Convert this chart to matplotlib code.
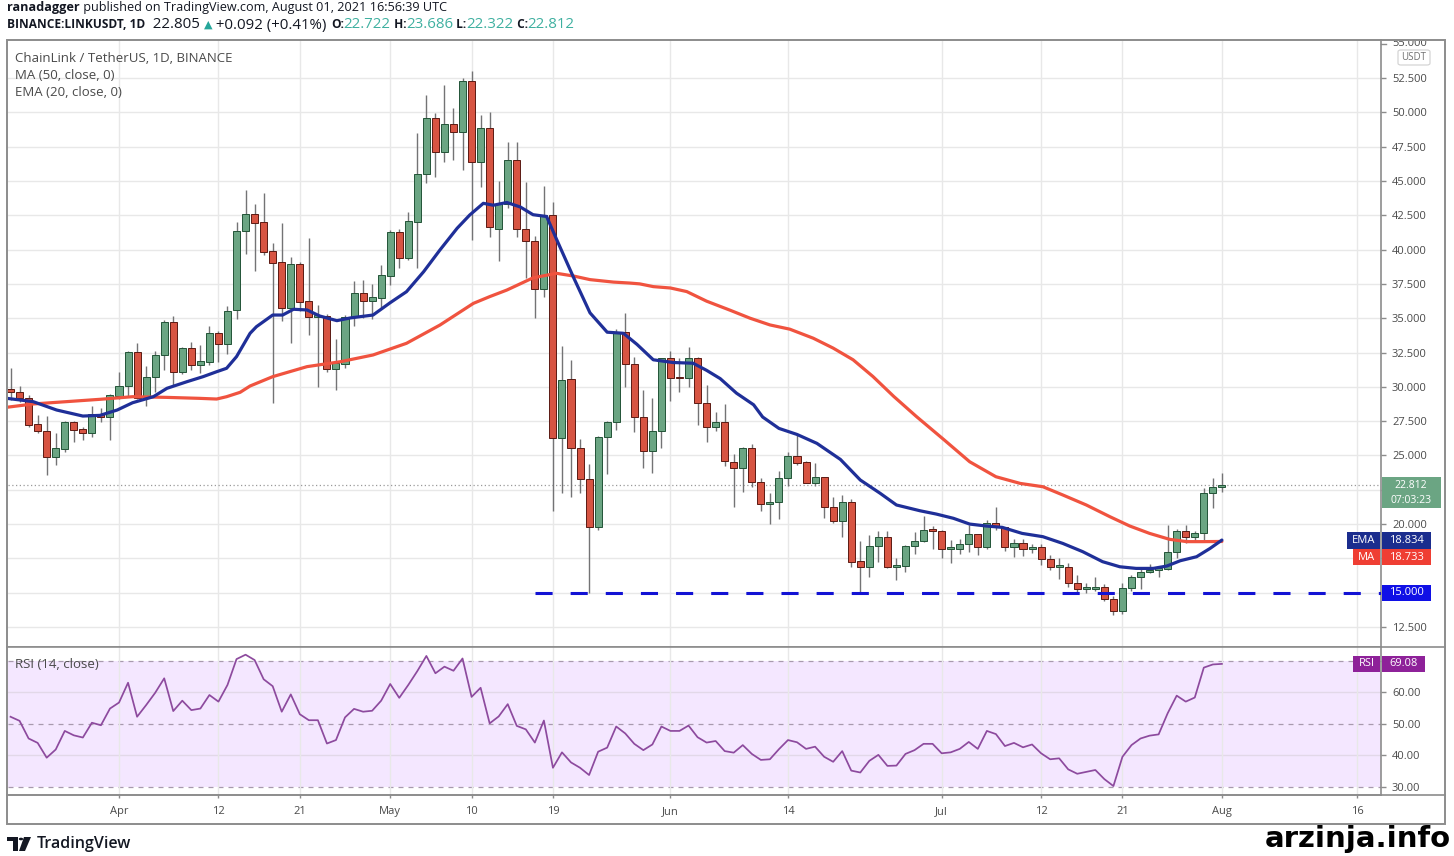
import numpy as np
import pandas as pd
import matplotlib
matplotlib.use("Agg")
import matplotlib.pyplot as plt
import matplotlib.dates as mdates
from matplotlib.patches import Rectangle, FancyBboxPatch, Polygon, Circle
from matplotlib.lines import Line2D
from matplotlib.transforms import Bbox

W, H = 1454, 856
FONT = ["Open Sans", "DejaVu Sans"]
plt.rcParams["font.family"] = FONT

# ---- data ----
dates = pd.date_range("2021-03-20", "2021-08-01", freq="D")

opens = [29.82, 29.62, 29.17, 27.27, 26.80, 24.86, 25.45, 27.41, 26.90, 26.60, 28.00, 27.78,
         29.35, 30.08, 32.51, 29.20, 30.70, 32.34, 34.70, 31.08, 32.80, 31.57, 31.83, 33.90,
         33.10, 35.60, 41.35, 42.59, 41.99, 39.90, 39.12, 35.72, 38.95, 36.28, 35.10, 35.16,
         31.28, 31.66, 35.11, 36.81, 36.25, 36.45, 38.07, 41.30, 39.41, 42.03, 45.50, 49.61,
         47.13, 49.13, 48.59, 52.30, 46.36, 48.84, 41.50, 43.30, 46.55, 41.47, 40.62, 37.12,
         42.54, 26.24, 30.60, 25.55, 23.25, 19.81, 26.37, 27.47, 33.98, 31.68, 27.80, 25.30,
         26.78, 32.07, 30.70, 30.61, 32.12, 28.80, 27.08, 27.47, 24.54, 24.06, 25.56, 23.09,
         21.46, 21.63, 23.33, 24.96, 24.50, 23.01, 23.40, 21.22, 20.25, 21.63, 17.31, 16.85,
         18.40, 19.03, 16.90, 16.94, 18.40, 18.79, 19.56, 19.49, 18.18, 18.20, 18.55, 19.25,
         18.30, 20.10, 19.76, 18.30, 18.59, 18.16, 18.35, 17.45, 16.88, 16.90, 15.73, 15.26,
         15.30, 15.44, 14.51, 13.69, 15.32, 16.12, 16.48, 16.68, 16.70, 17.99, 19.49, 19.08,
         19.32, 22.24, 22.722]
highs = [31.40, 30.08, 29.40, 27.95, 27.87, 26.61, 27.50, 27.50, 27.10, 28.63, 28.43, 29.45,
         31.10, 32.60, 33.20, 31.52, 32.63, 34.87, 35.16, 32.90, 33.24, 33.05, 34.43, 34.10,
         35.89, 42.03, 44.34, 43.30, 44.15, 40.45, 41.96, 39.44, 39.10, 40.82, 35.96, 35.30,
         33.46, 35.20, 37.71, 37.78, 37.49, 38.88, 41.40, 41.50, 42.76, 48.51, 51.26, 49.93,
         51.99, 50.29, 52.48, 53.01, 49.80, 50.04, 44.96, 47.85, 47.85, 44.89, 41.00, 44.66,
         43.43, 32.96, 31.94, 26.19, 24.35, 26.40, 27.50, 34.24, 35.39, 32.19, 29.77, 29.21,
         32.12, 32.63, 32.12, 32.88, 32.20, 30.15, 28.18, 28.74, 25.10, 25.64, 25.83, 23.33,
         22.29, 23.89, 25.27, 26.49, 24.62, 24.42, 23.45, 21.95, 22.12, 21.80, 18.76, 19.20,
         19.49, 19.49, 17.50, 18.45, 19.44, 20.59, 19.86, 19.57, 18.84, 18.89, 19.93, 19.30,
         20.29, 21.27, 19.80, 18.89, 18.89, 18.55, 18.55, 17.74, 17.50, 17.19, 16.29, 15.68,
         16.12, 15.63, 14.76, 15.73, 16.29, 16.70, 17.09, 16.94, 19.93, 19.61, 19.93, 19.52,
         22.60, 23.38, 23.686]
lows = [29.04, 28.90, 27.10, 26.60, 23.57, 24.30, 25.27, 26.00, 26.12, 26.37, 27.46, 26.12,
        29.10, 29.28, 29.10, 28.62, 29.64, 31.22, 30.13, 30.93, 31.20, 30.98, 31.60, 31.83,
        32.39, 34.92, 39.68, 38.46, 39.60, 28.80, 34.80, 33.17, 35.50, 33.78, 30.00, 31.10,
        29.77, 31.35, 34.46, 34.99, 34.92, 35.72, 37.42, 38.64, 39.24, 38.64, 44.83, 45.31,
        46.40, 46.52, 45.80, 40.70, 44.58, 40.94, 39.17, 43.05, 40.88, 37.94, 35.00, 36.54,
        20.95, 22.23, 21.98, 22.23, 15.00, 19.55, 23.64, 26.83, 30.02, 26.70, 24.07, 23.71,
        25.55, 29.00, 29.64, 30.02, 27.21, 25.99, 26.75, 24.20, 21.27, 22.36, 22.67, 20.97,
        20.00, 20.34, 22.77, 24.30, 22.96, 22.77, 20.42, 20.05, 19.08, 16.89, 15.07, 16.12,
        17.26, 16.77, 15.92, 16.53, 17.82, 18.72, 18.16, 17.50, 17.19, 17.82, 17.99, 17.74,
        18.20, 19.57, 18.06, 17.57, 17.67, 17.87, 17.02, 16.65, 15.97, 15.44, 15.07, 15.00,
        15.15, 14.42, 13.37, 13.45, 15.15, 15.24, 16.46, 16.12, 16.65, 17.50, 18.59, 18.79,
        18.84, 21.19, 22.322]
closes = [29.62, 29.17, 27.22, 26.78, 24.86, 25.56, 27.41, 26.85, 26.60, 28.00, 27.78, 29.40,
          30.06, 32.51, 29.20, 30.70, 32.34, 34.70, 31.08, 32.80, 31.57, 31.88, 33.90, 33.10,
          35.52, 41.35, 42.57, 41.91, 39.84, 39.04, 35.72, 38.95, 36.16, 35.11, 35.15, 31.28,
          31.72, 35.11, 36.81, 36.25, 36.52, 38.15, 41.30, 39.41, 42.08, 45.50, 49.61, 47.13,
          49.13, 48.59, 52.30, 46.36, 48.84, 41.67, 43.30, 46.55, 41.47, 40.62, 37.12, 42.54,
          26.24, 30.53, 25.55, 23.25, 19.81, 26.37, 27.47, 33.98, 31.68, 27.80, 25.30, 26.78,
          32.07, 30.66, 30.62, 32.12, 28.80, 27.08, 27.47, 24.56, 24.06, 25.56, 23.09, 21.46,
          21.63, 23.33, 24.96, 24.47, 23.01, 23.40, 21.22, 20.25, 21.63, 17.26, 16.85, 18.40,
          19.03, 16.85, 16.95, 18.40, 18.79, 19.56, 19.50, 18.16, 18.22, 18.55, 19.25, 18.30,
          20.10, 19.76, 18.30, 18.59, 18.16, 18.35, 17.45, 16.85, 16.92, 15.73, 15.24, 15.32,
          15.44, 14.51, 13.69, 15.32, 16.12, 16.48, 16.65, 16.72, 17.99, 19.49, 19.08, 19.32,
          22.24, 22.72, 22.812]
rsi = [52.3, 51.0, 45.4, 44.0, 39.3, 41.9, 47.8, 46.4, 45.7, 50.4, 49.6, 54.9,
       56.8, 63.1, 52.3, 56.0, 59.9, 64.5, 54.1, 57.4, 54.4, 54.9, 59.2, 57.1,
       62.4, 70.6, 72.0, 70.3, 64.2, 62.0, 53.9, 59.4, 53.1, 51.2, 51.2, 43.8,
       44.9, 52.1, 54.8, 53.9, 54.2, 57.4, 62.7, 58.3, 62.4, 66.8, 71.6, 66.1,
       68.2, 66.9, 70.8, 58.6, 61.5, 50.2, 52.4, 56.3, 49.4, 48.3, 44.1, 51.1,
       36.1, 41.0, 37.8, 36.1, 33.8, 41.2, 42.5, 49.2, 47.0, 43.7, 41.7, 43.5,
       49.2, 47.8, 47.8, 49.5, 45.8, 44.1, 44.6, 41.4, 40.9, 43.3, 40.5, 38.6,
       38.8, 42.0, 44.9, 44.2, 42.1, 42.8, 39.6, 38.0, 41.4, 35.2, 34.6, 38.3,
       40.2, 36.7, 36.8, 40.5, 41.7, 43.7, 43.7, 40.7, 41.0, 42.1, 44.3, 42.1,
       47.8, 46.8, 43.0, 44.0, 42.6, 43.5, 40.7, 38.8, 39.1, 35.6, 34.2, 34.8,
       35.4, 32.5, 30.3, 39.6, 43.3, 45.4, 46.3, 46.7, 53.4, 59.0, 57.1, 58.4,
       67.9, 68.9, 69.08]

# moving averages, sampled along the drawn curves (days after 1 Apr 2021)
ma_days = [-12.4, -9.5, -5.8, -2.1, 1.5, 5.3, 8.9, 10.8, 11.9, 13.4, 14.5, 17, 20.8, 24.5,
           28.1, 31.8, 35.5, 39.2, 41, 42.9, 45.8, 48.4, 50.3, 52.1, 54.7, 56.5, 57.6, 59.1,
           61, 62.8, 65, 67.6, 69.8, 72, 74.2, 76.8, 79, 81.2, 83.4, 85.7, 88.2, 91.3, 94.1,
           97, 99.7, 102.2, 104.4, 107, 109.6, 111.8, 114, 116.2, 118.1, 119.9, 122]
ma_vals = [28.51, 28.75, 28.92, 29.09, 29.28, 29.23, 29.16, 29.11, 29.28, 29.60, 30.06, 30.74,
           31.47, 31.83, 32.32, 33.17, 34.50, 36.08, 36.57, 37.05, 37.94, 38.27, 38.07, 37.81,
           37.63, 37.56, 37.50, 37.30, 37.20, 36.94, 36.24, 35.58, 35.00, 34.51, 34.20, 33.54,
           32.82, 31.97, 30.75, 29.30, 27.84, 26.12, 24.54, 23.45, 22.96, 22.72, 22.12, 21.39,
           20.54, 19.86, 19.32, 18.89, 18.72, 18.72, 18.733]
ema_days = [-12.4, -9.5, -6.9, -4, -2.1, -0.2, 1.5, 3.8, 5.3, 7.5, 9.3, 10.8, 11.9, 13, 14.5,
            15.2, 17, 18.1, 19.3, 20.8, 22.2, 24.1, 25.6, 28.1, 30, 31.8, 33.7, 35.5, 37.4,
            38.8, 40.3, 41.4, 42.9, 44.4, 45.8, 47.3, 48.4, 50.3, 52.1, 54, 55.8, 57.3, 59.1,
            61.3, 63.5, 65, 66.5, 68.3, 70.2, 71.2, 73, 75, 77.2, 79.8, 82, 84.2, 86, 88.6,
            90.4, 92.3, 94.1, 95.9, 97.7, 99.9, 102.2, 104.4, 106.6, 108.8, 110.7, 112.5,
            114.4, 115.9, 117.4, 119.2, 120.7, 122]
ema_vals = [29.16, 28.92, 28.31, 27.87, 27.92, 28.31, 28.84, 29.28, 29.89, 30.37, 30.74, 31.10,
            31.35, 32.20, 33.90, 34.38, 35.23, 35.23, 35.65, 35.60, 35.16, 34.82, 35.02, 35.23,
            36.13, 36.93, 38.39, 39.97, 41.55, 42.52, 43.37, 43.23, 43.43, 43.10, 42.54, 42.41,
            40.75, 37.94, 35.39, 33.98, 33.90, 33.09, 31.97, 31.77, 31.72, 31.20, 30.60, 29.54,
            28.69, 27.80, 26.97, 26.53, 25.88, 24.71, 23.21, 22.24, 21.39, 20.97, 20.73, 20.42,
            20.00, 19.86, 19.76, 19.32, 19.08, 18.59, 17.99, 17.26, 16.89, 16.77, 16.77, 16.94,
            17.33, 17.62, 18.23, 18.834]

support = 15.0
support_from = "2021-05-17"
last_price = 22.812
countdown = "07:03:23"
ema_last, ma_last, rsi_last = 18.834, 18.733, 69.08

tick_dates = ["2021-04-01", "2021-04-12", "2021-04-21", "2021-05-01", "2021-05-10",
              "2021-05-19", "2021-06-01", "2021-06-14", "2021-07-01", "2021-07-12",
              "2021-07-21", "2021-08-01", "2021-08-16"]
tick_labels = ["Apr", "12", "21", "May", "10", "19", "Jun", "14", "Jul", "12", "21", "Aug", "16"]
price_ticks = np.arange(12.5, 53, 2.5)
hidden_price_labels = [15.0, 17.5, 22.5]   # covered by the value badges
rsi_ticks = [30, 40, 50, 60, 70]

# ---- colours ----
UP, DN = "#6ba583", "#d75442"
UPB, DNB = "#225437", "#5b1a13"
WICK = "#737375"
MA_C, EMA_C = "#f0533f", "#1f2f98"
GRID = "#e8e8e8"
FRAME = "#8c8c8c"
TXT = "#4a4a4a"


def fx(px):
    return px / W


def fy(py):
    return 1 - py / H


fig = plt.figure(figsize=(W / 100, H / 100), dpi=100)
ax = fig.add_axes([fx(8), fy(647), fx(1381) - fx(8), fy(40) - fy(647)])
ax_rsi = fig.add_axes([fx(8), fy(795), fx(1381) - fx(8), fy(647) - fy(795)], sharex=ax)

base = mdates.date2num(pd.Timestamp("2021-04-01"))
xs = mdates.date2num(dates)
ax.set_xlim(base - 12.28, base + 139.6)
ax.set_ylim(11.043, 55.269)
ax_rsi.set_ylim(27.46, 74.44)

o = np.array(opens)
c = np.array(closes)
up = c >= o
bottoms = np.minimum(o, c)
heights = np.maximum(np.abs(c - o), 0.12)

ax.vlines(xs, lows, highs, color=WICK, lw=1, zorder=3)
ax.bar(xs, heights, bottom=bottoms, width=0.78,
       color=np.where(up, UP, DN), edgecolor=np.where(up, UPB, DNB), lw=0.7, zorder=4)

ax.plot(base + np.array(ma_days), ma_vals, color=MA_C, lw=2.3, zorder=5, solid_capstyle="round")
ax.plot(base + np.array(ema_days), ema_vals, color=EMA_C, lw=2.3, zorder=6, solid_capstyle="round")

sup_x = mdates.date2num(pd.Timestamp(support_from))
ax.plot([sup_x, base + 139.6], [support, support], color="#1212d4", lw=2.2,
        ls=(0, (5.6, 5.9)), zorder=6)
ax.axhline(last_price, color="#9a9a9a", lw=0.9, ls=(0, (1, 2)), zorder=2)

tick_nums = mdates.date2num(pd.to_datetime(tick_dates))
for a in (ax, ax_rsi):
    a.set_xticks(tick_nums)
    a.grid(True, axis="x", color=GRID, lw=1, zorder=0)
    for s in a.spines.values():
        s.set_color(FRAME)
        s.set_linewidth(1.2)
ax.grid(True, axis="y", color=GRID, lw=1, zorder=0)
ax.tick_params(axis="x", length=0, labelbottom=False)
ax.yaxis.tick_right()
ax.set_yticks(price_ticks)
ax.set_yticklabels(["" if round(v, 1) in hidden_price_labels else f"{v:.3f}" for v in price_ticks])
ax.tick_params(axis="y", length=3.6, width=1, color=FRAME, pad=4.3, labelsize=8, labelcolor=TXT)
ax.spines["left"].set_visible(False)
ax.spines["top"].set_visible(False)

ax_rsi.set_xticklabels(tick_labels)
ax_rsi.tick_params(axis="x", length=2.2, width=1, color=FRAME, pad=5.5, labelsize=8, labelcolor=TXT)
ax_rsi.yaxis.tick_right()
ax_rsi.set_yticks(rsi_ticks)
ax_rsi.set_yticklabels(["" if v == 70 else f"{v:.2f}" for v in rsi_ticks])
ax_rsi.tick_params(axis="y", length=3.6, width=1, color=FRAME, pad=4.3, labelsize=8, labelcolor=TXT)
ax_rsi.spines["left"].set_visible(False)
ax_rsi.spines["top"].set_visible(False)

ax_rsi.axhspan(30, 70, color="#9915ff", alpha=0.1, lw=0, zorder=0)
for lvl in (40, 60):
    ax_rsi.axhline(lvl, color="#e2d8e8", lw=1, zorder=1)
for lvl in (30, 50, 70):
    ax_rsi.axhline(lvl, color="#a89aae", lw=0.9, ls=(0, (4, 4)), zorder=1)
ax_rsi.plot(xs, rsi, color="#8d4a9e", lw=1.25, zorder=3)

# ---- frame and pane separators ----
fig.patches.append(Rectangle((fx(7), fy(824)), fx(1445) - fx(7), fy(40) - fy(824),
                             transform=fig.transFigure, fill=False, ec=FRAME, lw=1.4, zorder=2))
for yy in (647, 795):
    fig.lines.append(Line2D([fx(7), fx(1445)], [fy(yy), fy(yy)], transform=fig.transFigure,
                            color=FRAME, lw=1.2, zorder=2))


def price_py(ax_, v):
    return H - ax_.transData.transform((base, v))[1]


# top price label, cut by the frame
p55 = price_py(ax, 55)
t55 = fig.text(fx(1392), fy(p55), "55.000", fontsize=8, color=TXT, va="center", ha="left")
t55.set_clip_box(Bbox.from_extents(1382, H - 647, 1444, H - 41))
t55.set_clip_on(True)
fig.lines.append(Line2D([fx(1381), fx(1386)], [fy(p55), fy(p55)], transform=fig.transFigure,
                        color=FRAME, lw=1))

fig.patches.append(FancyBboxPatch((fx(1398), fy(65)), fx(1430) - fx(1398), fy(50) - fy(65),
                                  boxstyle="round,pad=0,rounding_size=0.002",
                                  transform=fig.transFigure, fc="white", ec="#d0d0d0", lw=0.8, zorder=3))
fig.text(fx(1414), fy(57.5), "USDT", fontsize=7, color="#707070", ha="center", va="center", zorder=4)


def box(x0, x1, yc, h, color, text, size=8):
    fig.patches.append(Rectangle((fx(x0), fy(yc + h / 2)), fx(x1) - fx(x0), h / H,
                                 transform=fig.transFigure, fc=color, ec="none", zorder=5))
    if text:
        fig.text(fx((x0 + x1) / 2), fy(yc), text, fontsize=size, color="white",
                 ha="center", va="center", zorder=6)


# last price box with countdown
lp = price_py(ax, last_price)
fig.patches.append(Rectangle((fx(1382), fy(lp + 22.5)), fx(1441) - fx(1382), 31 / H,
                             transform=fig.transFigure, fc=UP, ec="none", zorder=5))
fig.text(fx(1411), fy(lp + 0.5), f"{last_price:.3f}", fontsize=7.5, color="white",
         ha="center", va="center", zorder=6)
fig.text(fx(1411), fy(lp + 15.5), countdown, fontsize=7.5, color="white",
         ha="center", va="center", zorder=6)

ye = price_py(ax, ema_last)
box(1347, 1380, ye, 17, "#1b2d8e", "EMA")
box(1382, 1431, ye, 17, "#1b2d8e", f"{ema_last:.3f}")
box(1353, 1380, ye + 17, 16, "#ef3e33", "MA")
box(1382, 1431, ye + 17, 16, "#ef3e33", f"{ma_last:.3f}")
box(1382, 1431, price_py(ax, support), 16, "#1010e6", f"{support:.3f}")
yr = price_py(ax_rsi, rsi_last)
box(1353, 1380, yr, 16, "#8e2199", "RSI")
box(1382, 1425, yr, 16, "#8e2199", f"{rsi_last:.2f}")

# ---- legends and header ----
fig.text(fx(15), fy(58), "ChainLink / TetherUS, 1D, BINANCE", fontsize=9.5, color=TXT, va="center")
fig.text(fx(15), fy(75.5), "MA (50, close, 0)", fontsize=9.5, color=TXT, va="center")
fig.text(fx(15), fy(93), "EMA (20, close, 0)", fontsize=9.5, color=TXT, va="center")
fig.text(fx(15), fy(664), "RSI (14, close)", fontsize=9.5, color=TXT, va="center")

renderer = fig.canvas.get_renderer()


def seq_text(x, y, parts):
    for s, color, weight, size in parts:
        t = fig.text(fx(x), fy(y), s, fontsize=size, color=color, fontweight=weight,
                     ha="left", va="center")
        x += t.get_window_extent(renderer).width


DARK, TEAL = "#131722", "#3fb0a0"
B, N = 8.6, 10.8
seq_text(7, 8, [("ranadagger", DARK, "bold", 9.1),
                (" published on TradingView.com, August 01, 2021 16:56:39 UTC", DARK, "normal", 9.1)])
seq_text(7, 25, [("BINANCE:LINKUSDT, 1D", DARK, "bold", B), ("  22.805 ", DARK, "normal", N),
                 ("▲", "#26a69a", "normal", 8), (" +0.092 (+0.41%) ", DARK, "normal", N),
                 ("O:", DARK, "bold", B), ("22.722", TEAL, "normal", N), (" H:", DARK, "bold", B),
                 ("23.686", TEAL, "normal", N), (" L:", DARK, "bold", B), ("22.322", TEAL, "normal", N),
                 (" C:", DARK, "bold", B), ("22.812", TEAL, "normal", N)])

# ---- footer ----
fig.patches.append(Polygon([(fx(7), fy(837)), (fx(18), fy(837)), (fx(18), fy(851)), (fx(13), fy(851)),
                            (fx(13), fy(841)), (fx(7), fy(841))], closed=True,
                           transform=fig.transFigure, fc="#131722", ec="none"))
fig.patches.append(Polygon([(fx(24), fy(837)), (fx(31), fy(837)), (fx(25), fy(851)), (fx(19), fy(851))],
                           closed=True, transform=fig.transFigure, fc="#131722", ec="none"))
fig.patches.append(Circle((fx(21), fy(839)), 2.2 / W, transform=fig.transFigure,
                          fc="#131722", ec="none"))
fig.text(fx(37), fy(844), "TradingView", fontsize=11.5, color="#131722", fontweight="semibold",
         ha="left", va="center")
fig.text(fx(1451), fy(839), "arzinja.info", fontsize=21, color="black", fontweight="bold",
         family=["DejaVu Sans"], ha="right", va="center")

fig.savefig("out.png", dpi=100)
